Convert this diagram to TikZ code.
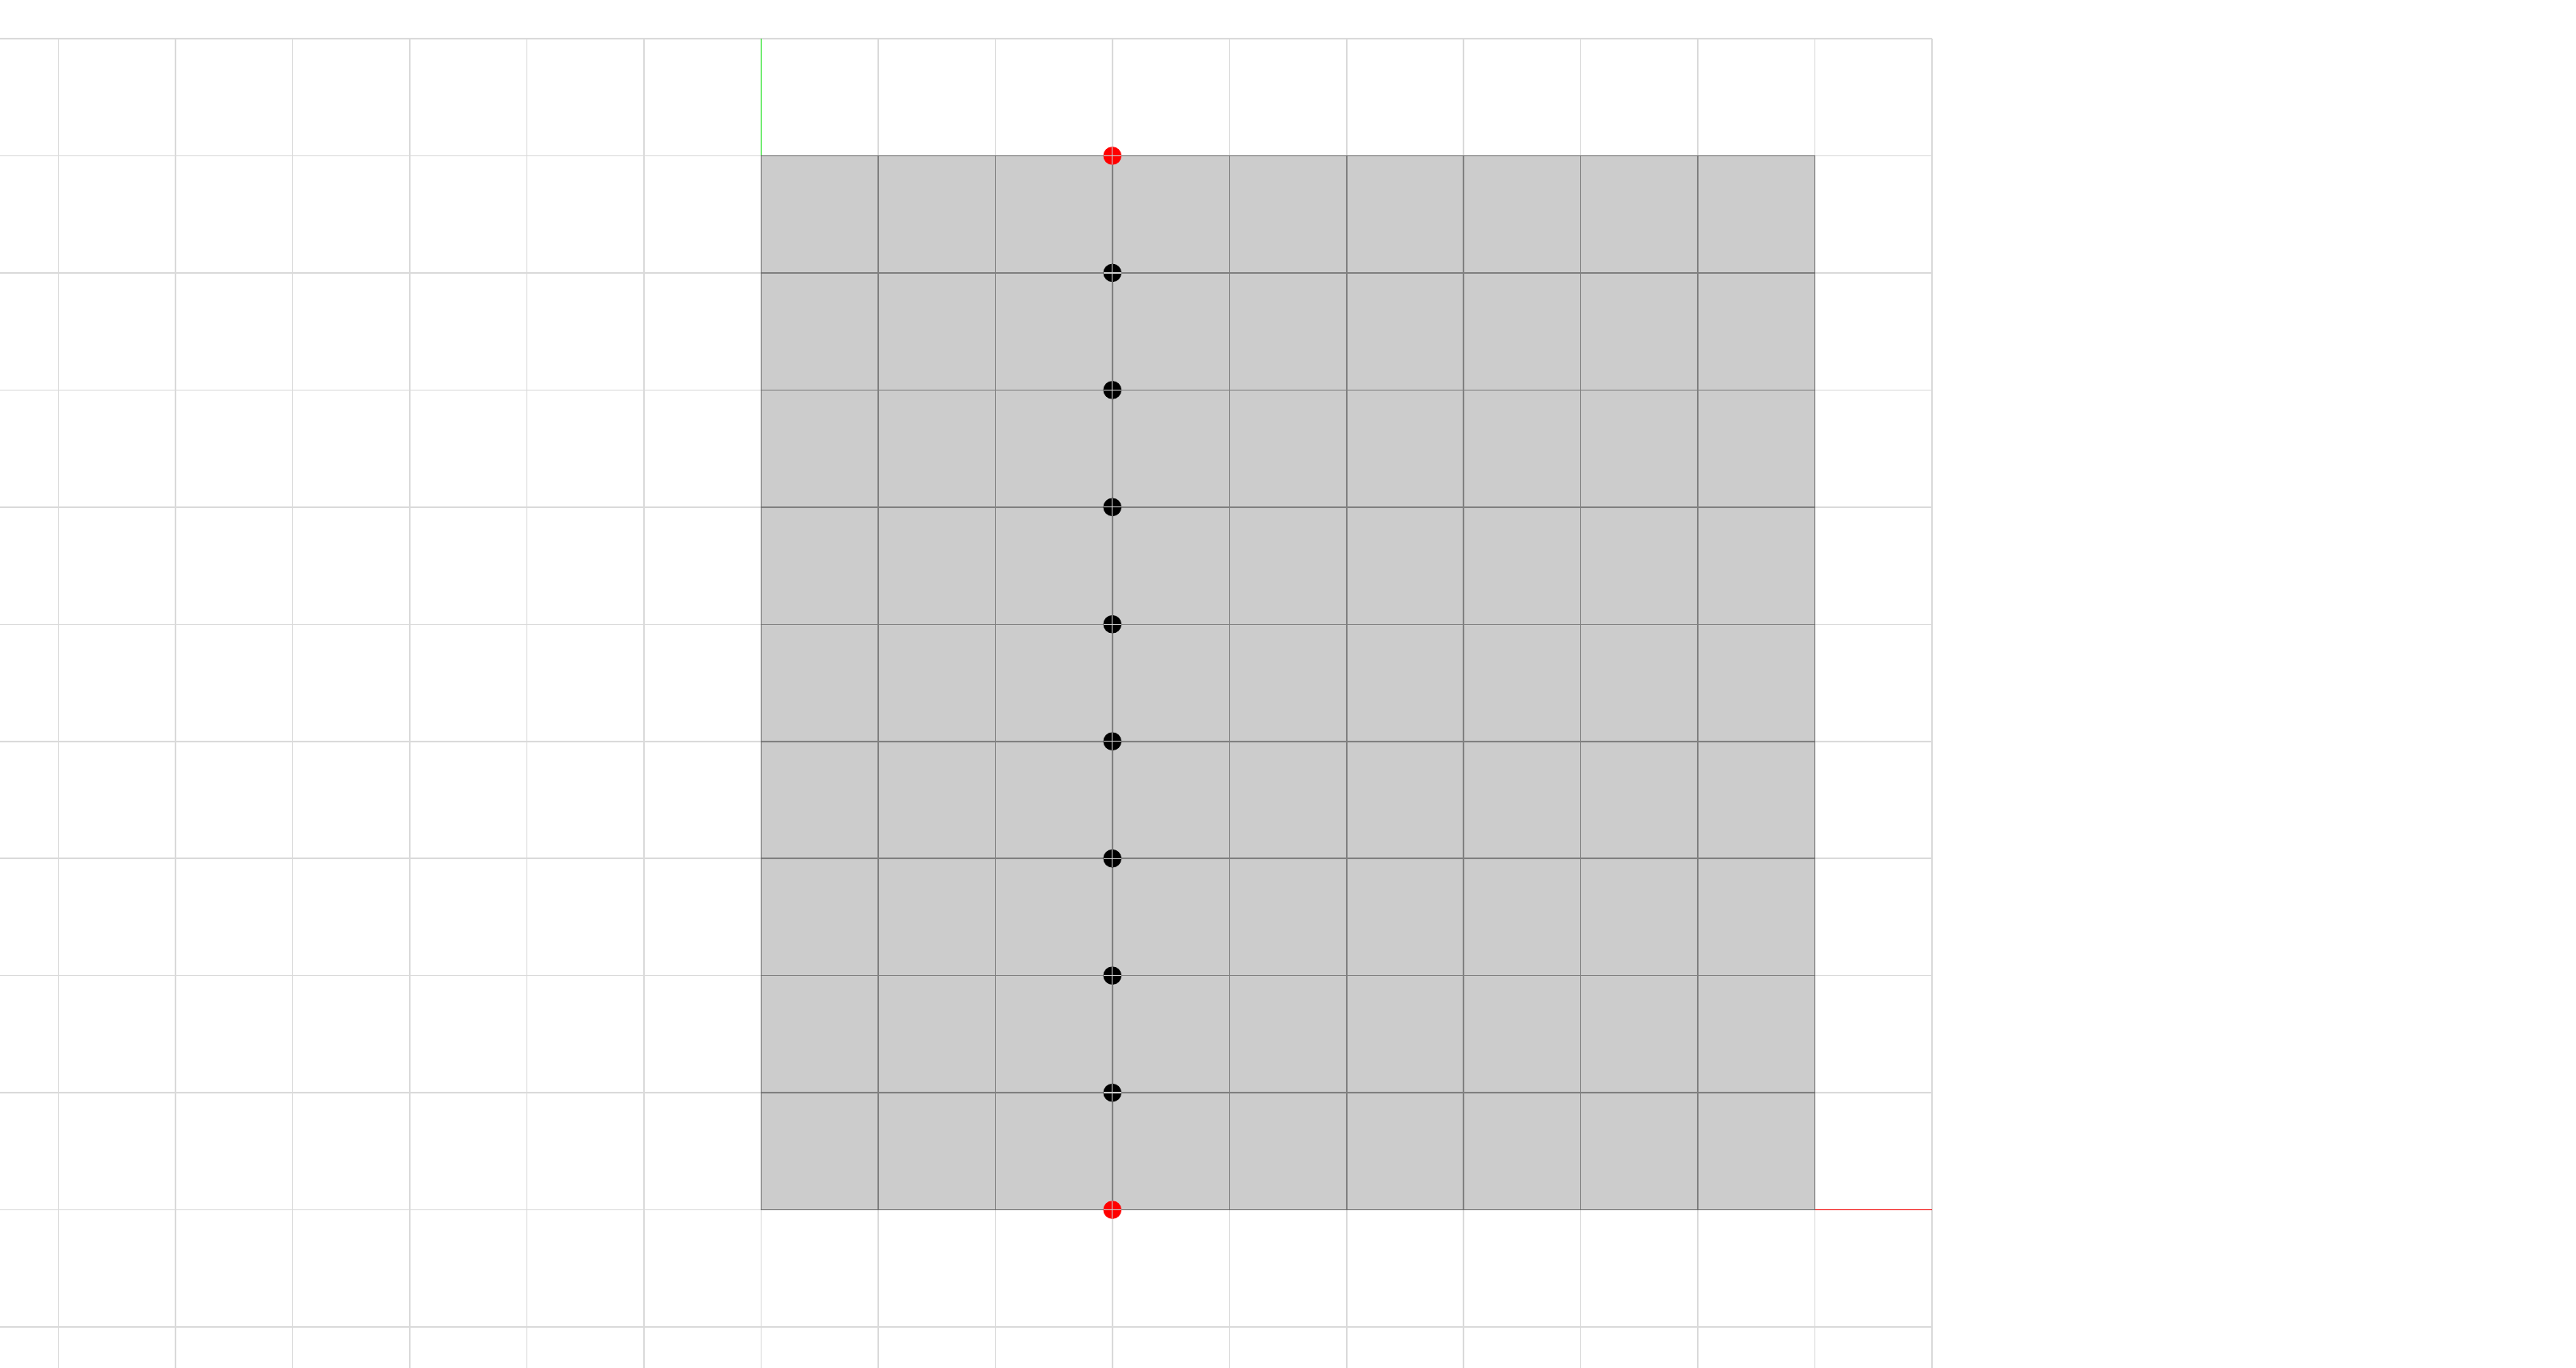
\documentclass[tikz,border=0pt]{standalone}
\definecolor{lightline}{RGB}{218,218,218}
\definecolor{darkline}{RGB}{128,128,128}
\definecolor{boxfill}{RGB}{204,204,204}
\definecolor{axisgreen}{RGB}{0,220,0}
\definecolor{axisred}{RGB}{240,0,0}
\begin{document}
\begin{tikzpicture}[x=1cm,y=1cm,
  lightgrid/.style={draw=lightline, line width=0.3pt},
  darkgrid/.style={draw=darkline, line width=0.3pt},
  ptdot/.style={circle, inner sep=0pt, minimum size=0.155cm, fill=black,
    path picture={\draw[boxfill, line width=0.25pt]
      (path picture bounding box.west) -- (path picture bounding box.east)
      (path picture bounding box.north) -- (path picture bounding box.south);}},
  enddot/.style={ptdot, fill=red}]
\useasboundingbox (-6.5,-1.35) rectangle (15.5,10.33);
\fill[white] (-6.5,-1.35) rectangle (15.5,10.33);
\draw[lightgrid] (-6.5,-1.35) grid (10,10);
\draw[axisred, line width=0.3pt] (0,0) -- (10,0);
\draw[axisgreen, line width=0.3pt] (0,0) -- (0,10);
\fill[boxfill] (0,0) rectangle (9,9);
\draw[darkgrid] (0,0) grid (9,9);
\draw[darkline!85!black, line width=0.35pt] (0,0) rectangle (9,9);
\node[enddot] (d0) at (3,0) {};
\foreach \k in {1,...,8} {\node[ptdot] (d\k) at (3,\k) {};}
\node[enddot] (d9) at (3,9) {};
\draw[darkgrid] (d0) -- (d1) -- (d2) -- (d3) -- (d4) -- (d5) -- (d6) -- (d7) -- (d8) -- (d9);
\end{tikzpicture}
\end{document}
